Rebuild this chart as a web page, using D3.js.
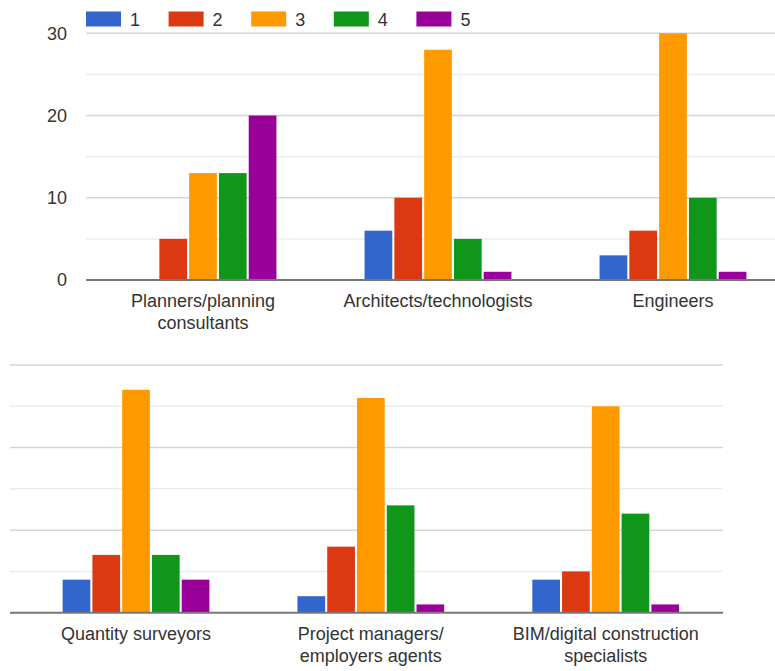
<!DOCTYPE html>
<html>
<head>
<meta charset="utf-8">
<script src="https://cdn.jsdelivr.net/npm/d3@7"></script>
<style>
  html, body { margin: 0; padding: 0; background: #fff; }
  svg { display: block; font-family: "Liberation Sans", Arial, sans-serif; }
</style>
</head>
<body>
<svg id="chart" width="775" height="671"></svg>
<script>
// Response scores 1–5 by profession (two panels of three groups each)
const seriesNames = ["1", "2", "3", "4", "5"];
const seriesColors = ["#3366cc", "#dc3912", "#ff9900", "#109618", "#990099"];

const topCategories = ["Planners/planning\nconsultants", "Architects/technologists", "Engineers"];
const bottomCategories = ["Quantity surveyors", "Project managers/\nemployers agents", "BIM/digital construction\nspecialists"];

// one value per category, top panel first then bottom panel
const series1 = [0, 6, 3, 4, 2, 4];
const series2 = [5, 10, 6, 7, 8, 5];
const series3 = [13, 28, 30, 27, 26, 25];
const series4 = [13, 5, 10, 7, 13, 12];
const series5 = [20, 1, 1, 4, 1, 1];

const yTicks = [0, 10, 20, 30];
const yMinorTicks = [5, 15, 25];

const allSeries = [series1, series2, series3, series4, series5];
const svg = d3.select("#chart");

function drawPanel(cfg) {
  const g = svg.append("g");
  const y = d3.scaleLinear().domain([0, 30]).range([cfg.y0, cfg.y30]);
  const x = d3.scaleBand().domain(cfg.categories).range(cfg.xRange)
    .paddingInner(0.375).paddingOuter(0.1875);
  const xs = d3.scaleBand().domain(seriesNames).range([0, x.bandwidth()]).paddingInner(0.07);

  // minor gridlines
  g.selectAll("line.minor").data(yMinorTicks).join("line")
    .attr("x1", cfg.gridX[0]).attr("x2", cfg.gridX[1])
    .attr("y1", d => y(d)).attr("y2", d => y(d))
    .attr("stroke", "#ececec").attr("stroke-width", 1.5);
  // major gridlines
  g.selectAll("line.major").data(yTicks.filter(t => t !== 0)).join("line")
    .attr("x1", cfg.gridX[0]).attr("x2", cfg.gridX[1])
    .attr("y1", d => y(d)).attr("y2", d => y(d))
    .attr("stroke", "#d6d6d6").attr("stroke-width", 1.5);

  // y axis labels
  if (cfg.showYLabels) {
    const axis = d3.axisLeft(y).tickValues(yTicks).tickSize(0).tickPadding(0);
    const ag = g.append("g").attr("transform", `translate(${cfg.labelX},0)`).call(axis);
    ag.select(".domain").remove();
    ag.selectAll("text").attr("font-size", 18).attr("fill", "#333")
      .attr("font-family", "Liberation Sans, Arial, sans-serif");
  }

  // bars
  cfg.categories.forEach((cat, ci) => {
    const grp = g.append("g").attr("transform", `translate(${x(cat)},0)`);
    seriesNames.forEach((s, si) => {
      const v = allSeries[si][cfg.offset + ci];
      if (v <= 0) return;
      grp.append("rect")
        .attr("x", xs(s)).attr("width", xs.bandwidth())
        .attr("y", y(v)).attr("height", y(0) - y(v))
        .attr("fill", seriesColors[si]);
    });
  });

  // baseline
  g.append("line")
    .attr("x1", cfg.gridX[0]).attr("x2", cfg.gridX[1])
    .attr("y1", y(0)).attr("y2", y(0))
    .attr("stroke", "#777").attr("stroke-width", 2);

  // category labels
  cfg.categories.forEach(cat => {
    const t = g.append("text")
      .attr("text-anchor", "middle")
      .attr("font-size", 18).attr("fill", "#333")
      .attr("x", x(cat) + x.bandwidth() / 2)
      .attr("y", cfg.labelY);
    cat.split("\n").forEach((line, li) => {
      t.append("tspan").attr("x", x(cat) + x.bandwidth() / 2)
        .attr("dy", li === 0 ? 0 : 22).text(line);
    });
  });
}

drawPanel({
  categories: topCategories, offset: 0,
  y0: 280, y30: 33.3,
  xRange: [85.5, 790.5], gridX: [86, 775],
  showYLabels: true, labelX: 67, labelY: 307
});

drawPanel({
  categories: bottomCategories, offset: 3,
  y0: 612.7, y30: 365,
  xRange: [18.6, 723.1], gridX: [10, 723],
  showYLabels: false, labelY: 640
});

// legend
const legend = svg.append("g");
seriesNames.forEach((s, i) => {
  const lg = legend.append("g").attr("transform", `translate(${86 + i * 82.6},0)`);
  lg.append("rect").attr("x", 0).attr("y", 11.5).attr("width", 35).attr("height", 15)
    .attr("fill", seriesColors[i]);
  lg.append("text").attr("x", 44).attr("y", 26).attr("font-size", 18)
    .attr("fill", "#333").text(s);
});
</script>
</body>
</html>
